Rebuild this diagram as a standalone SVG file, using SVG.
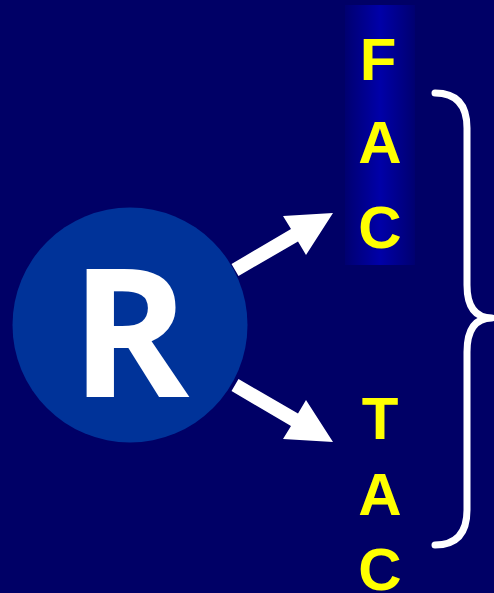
<svg xmlns="http://www.w3.org/2000/svg" width="494" height="593" viewBox="0 0 494 593">
  <style>
    .letter { font-family: "Liberation Sans", Arial, sans-serif; font-weight: bold; font-size: 60px; fill: #ffff00; text-anchor: middle; }
    .big { font-family: "Open Sans", "DejaVu Sans", sans-serif; font-weight: bold; font-size: 180px; fill: #ffffff; text-anchor: middle; }
    .arrow { fill: #ffffff; }
    .brace { fill: none; stroke: #ffffff; stroke-width: 7; stroke-linecap: round; stroke-linejoin: round; }
  </style>
  <defs>
    <linearGradient id="colGlow" x1="0" y1="0" x2="1" y2="0">
      <stop offset="0" stop-color="#000070"/>
      <stop offset="0.5" stop-color="#0000a8"/>
      <stop offset="1" stop-color="#000070"/>
    </linearGradient>
  </defs>

  <rect x="0" y="0" width="494" height="593" fill="#000066"/>

  <g id="fac">
    <rect x="345" y="5" width="70" height="260" fill="url(#colGlow)"/>
    <text class="letter" x="378" y="80">F</text>
    <text class="letter" x="380" y="163">A</text>
    <text class="letter" x="380" y="248">C</text>
  </g>

  <g id="tac">
    <text class="letter" x="380" y="439">T</text>
    <text class="letter" x="380" y="515">A</text>
    <text class="letter" x="380" y="590">C</text>
  </g>

  <g id="r-node">
    <circle cx="130" cy="325" r="117.5" fill="#003399"/>
    <text class="big" x="130" y="397">R</text>
  </g>

  <g id="connectors">
    <polygon class="arrow" points="231.5,264 291,229 283,216 333,213 306,255 298,241.5 238.5,276"/>
    <polygon class="arrow" points="231.5,391 291,426 283,439 333,442 306,400 298,413.5 238.5,379"/>
    <path class="brace" d="M435,93 Q467,93 467,128 L467,285 Q467,318 492,318 Q467,318 467,352 L467,510 Q467,545 435,545"/>
  </g>
</svg>
